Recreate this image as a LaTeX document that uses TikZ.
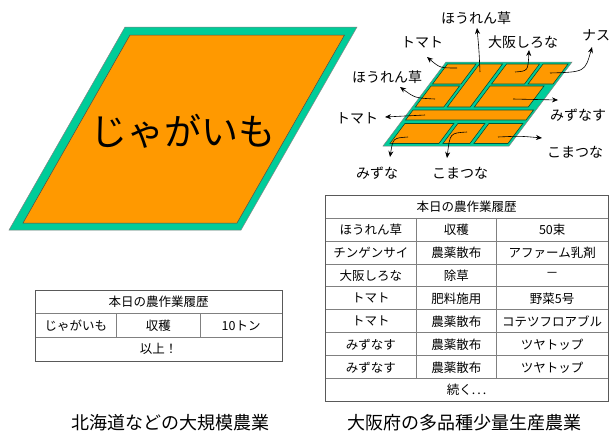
\documentclass[tikz,border=0pt]{standalone}
\usepackage{fontspec}
\setmainfont{Noto Sans CJK JP}
\usetikzlibrary{arrows.meta}
\definecolor{orng}{HTML}{FF9900}
\definecolor{grn}{HTML}{00CC99}
\definecolor{dkg}{HTML}{00553A}
\newcommand\plotbox[4]{\filldraw[plotst] (#1,#2) -- (#3,#2) -- (#3,#4) -- (#1,#4) -- cycle;}
\begin{document}
\begin{tikzpicture}[x=1pt,y=-1pt,
  plotst/.style={fill=orng,draw=dkg,line width=0.6pt},
  lbl/.style={font=\fontsize{14}{16}\selectfont,inner sep=0pt},
  arr/.style={-{Stealth[length=6pt,width=5pt]},line width=0.6pt},
  cell/.style={font=\fontsize{12.5}{14}\selectfont,inner sep=0pt},
  captxt/.style={font=\fontsize{18}{20}\selectfont,inner sep=0pt},
  tbl/.style={draw=black!65,line width=0.8pt},
  tbli/.style={draw=black!50,line width=0.8pt}]
\useasboundingbox (0,0) rectangle (613,432);
% left field
\filldraw[fill=grn,draw=gray,line width=0.5pt] (125,27) -- (357,27) -- (241,230) -- (9,230) -- cycle;
\filldraw[fill=orng,draw=black!70,line width=0.5pt] (130,35) -- (344.5,35) -- (237,223) -- (23,223) -- cycle;
\node[font=\fontsize{37}{40}\selectfont,inner sep=0pt] (jaga) at (183,131) {じゃがいも};
% right fields
\begin{scope}[shift={(446,62)},xslant=0.75]
\filldraw[fill=grn,draw=gray,line width=0.5pt] (0,0) -- (126,0) -- (126,84) -- (0,84) -- cycle;
\plotbox{3}{2}{31.5}{22}
\plotbox{3}{24}{31.5}{45}
\plotbox{35}{2}{58}{45}
\plotbox{62}{2}{95}{22}
\plotbox{98.5}{2}{123.5}{22}
\plotbox{62}{24}{116}{45}
\plotbox{3}{48}{123.5}{58}
\plotbox{5}{61.5}{54}{81.5}
\plotbox{58}{61.5}{85}{81.5}
\plotbox{89}{61.5}{123}{81.5}
\end{scope}
% labels
\node[lbl] (l1) at (476,18) {ほうれん草};
\node[lbl] (l2) at (422,42) {トマト};
\node[lbl] (l3) at (523,42) {大阪しろな};
\node[lbl] (l4) at (596,35) {ナス};
\node[lbl] (l5) at (387,77) {ほうれん草};
\node[lbl] (l6) at (357,118) {トマト};
\node[lbl] (l7) at (578,115) {みずなす};
\node[lbl] (l8) at (575,152) {こまつな};
\node[lbl] (l9) at (377,173) {みずな};
\node[lbl] (l10) at (460,173) {こまつな};
% arrows
\coordinate (s1) at (480,72);  \coordinate (e1) at (477,28);
\coordinate (s2) at (457,68);  \coordinate (e2) at (427,57);
\coordinate (s3) at (515,72);  \coordinate (e3) at (529,50);
\coordinate (s4) at (550,73);  \coordinate (e4) at (592,47);
\coordinate (s5) at (435,99);  \coordinate (e5) at (400,87);
\coordinate (s6) at (425,115); \coordinate (e6) at (385,117);
\coordinate (s7) at (513,99);  \coordinate (e7) at (558,100);
\coordinate (s8) at (498,137); \coordinate (e8) at (542,138);
\coordinate (s9) at (408,137); \coordinate (e9) at (390,157);
\coordinate (s10) at (467,132); \coordinate (e10) at (447,158);
\draw[arr] (s1) .. controls (479,50) .. (e1);
\draw[arr] (s2) .. controls (440,68) .. (e2);
\draw[arr] (s3) .. controls (528,71) .. (e3);
\draw[arr] (s4) .. controls (585,72) .. (e4);
\draw[arr] (s5) .. controls (415,98) .. (e5);
\draw[arr] (s6) -- (e6);
\draw[arr] (s7) -- (e7);
\draw[arr] (s8) .. controls (520,136) .. (e8);
\draw[arr] (s9) .. controls (393,138) .. (e9);
\draw[arr] (s10) .. controls (450,133) .. (e10);
% left table
\foreach \y in {313.7,337.3} \draw[tbli] (35,\y) -- (282.3,\y);
\foreach \x in {116.7,200} \draw[tbli] (\x,313.7) -- (\x,337.3);
\draw[tbl] (35,290) rectangle (282.3,361);
\node[cell] (lth) at (158.6,301.8) {本日の農作業履歴};
\node[cell] (lt1) at (75.8,325.5) {じゃがいも};
\node[cell] (lt2) at (158.3,325.5) {収穫};
\node[cell] (lt3) at (241.1,325.5) {10トン};
\node[cell] (lt4) at (158.6,349.1) {以上！};
% right table
\foreach \k in {1,...,8} \draw[tbli] (325,195+22.97*\k) -- (608.3,195+22.97*\k);
\foreach \x in {416.7,496} \draw[tbli] (\x,217.97) -- (\x,378.73);
\draw[tbl] (325,195) rectangle (608.3,401.7);
\node[cell] (rth) at (466.6,206.5) {本日の農作業履歴};
\foreach \a/\b/\c [count=\i] in {ほうれん草/収穫/50束, チンゲンサイ/農薬散布/アファーム乳剤, 大阪しろな/除草/－, トマト/肥料施用/野菜5号, トマト/農薬散布/コテツフロアブル, みずなす/農薬散布/ツヤトップ, みずなす/農薬散布/ツヤトップ}{
  \node[cell] (ra\i) at (370.8,206.5+22.97*\i) {\a};
  \node[cell] (rb\i) at (456.4,206.5+22.97*\i) {\b};
  \node[cell] (rc\i) at (552.2,206.5+22.97*\i) {\c};
}
\node[cell] (rtend) at (466.6,390.2) {続く.\,.\,.};
% captions
\node[captxt] (c1) at (170,423) {北海道などの大規模農業};
\node[captxt] (c2) at (464,423) {大阪府の多品種少量生産農業};
\end{tikzpicture}
\end{document}
